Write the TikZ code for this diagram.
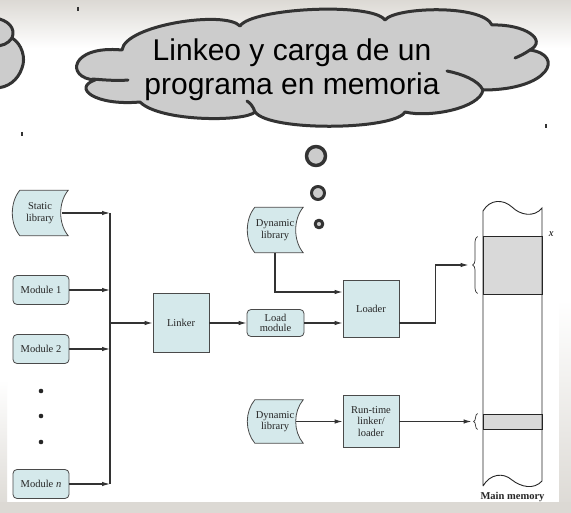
\documentclass[tikz,border=0pt]{standalone}
\usepackage{fontspec}
\setmainfont{Liberation Serif}
\newfontfamily\slidefont{Liberation Sans}
\usepackage{tikz}
\usetikzlibrary{shapes,arrows,arrows.meta}
\usetikzlibrary{calc}
\usetikzlibrary{backgrounds}
\usetikzlibrary{decorations.pathreplacing}
\pgfdeclarelayer{slidebg}
\pgfsetlayers{slidebg,background,main}
\definecolor{slidegray}{HTML}{DCD9D4}
\definecolor{boxfill}{HTML}{D5E9EB}
\definecolor{boxline}{HTML}{4A4A4A}
\definecolor{cloudfill}{HTML}{CCCCCC}
\definecolor{cloudline}{HTML}{333333}
\definecolor{memfill}{HTML}{D9D9D9}
\tikzstyle{procblock} = [rectangle, draw=boxline, fill=boxfill, line width=0.8pt,
    align=center, minimum width=56pt, inner sep=1pt, text=black!85,
    font=\fontsize{10.5}{11.5}\selectfont]
\tikzstyle{filebox} = [procblock, rounded corners=4pt, minimum height=29pt]
\tikzstyle{libbox} = [rectangle, align=center, minimum width=56pt, minimum height=45pt,
    inner sep=0pt, text=black!85, font=\fontsize{10.5}{11.5}\selectfont]
\tikzstyle{memseg} = [rectangle, draw=black!85, fill=memfill, line width=0.9pt,
    minimum width=59pt, inner sep=0pt]
\tikzstyle{line} = [draw=black!80, line width=1.1pt, -{Latex[length=8pt,width=4.5pt]}]
\tikzstyle{puffline} = [draw=cloudline, line width=3pt, line cap=round, line join=round]

\begin{document}
\begin{tikzpicture}[x=1pt, y=-1pt]
    \useasboundingbox (0,0) rectangle (571,513);
    % slide background
    \begin{pgfonlayer}{slidebg}
    \fill[white] (0,0) rectangle (571,513);
    \shade[top color=slidegray, bottom color=white] (0,0) rectangle (571,48);
    \shade[top color=white, bottom color=slidegray] (559,300) rectangle (571,513);
    \shade[top color=white, bottom color=slidegray] (0,380) rectangle (7,513);
    \fill[slidegray] (0,502) rectangle (571,513);
    \end{pgfonlayer}
    \foreach \tx/\ty in {78/7, 22/132, 546/124}
        \draw[cloudline, line width=1.4pt] (\tx,\ty) -- (\tx,\ty+4);

    % thought clouds
    \filldraw[fill=cloudfill, puffline] (-5,18) .. controls (8,20) and (16,28) .. (12,38)
        .. controls (22,44) and (26,58) .. (22,68) .. controls (18,80) and (8,88) .. (-5,88) -- cycle;
    \draw[puffline] (12,38) .. controls (8,44) and (2,46) .. (-5,46);
    \filldraw[fill=cloudfill, puffline] (122,50)
        .. controls (125,25) and (225,10) .. (240,26)
        .. controls (252,8) and (372,2) .. (385,20)
        .. controls (395,7) and (482,4) .. (492,25)
        .. controls (525,24) and (548,40) .. (530,50)
        .. controls (565,55) and (550,90) .. (483,90)
        .. controls (480,108) and (430,118) .. (405,112)
        .. controls (395,130) and (270,132) .. (255,112)
        .. controls (245,122) and (160,122) .. (140,102)
        .. controls (95,106) and (72,88) .. (95,80)
        .. controls (65,78) and (70,45) .. cycle;
    \draw[puffline] (92,79) .. controls (105,80) and (118,81) .. (128,80);
    \draw[puffline] (530,50) .. controls (524,54) and (520,56) .. (515,58);
    \draw[puffline] (483,90) .. controls (478,80) and (462,74) .. (447,71);
    \draw[puffline] (255,112) .. controls (253,106) and (250,103) .. (247,101);
    \node [align=center, font=\slidefont\fontsize{30}{34}\selectfont] (title) at (292,70)
        {Linkeo y carga de un\\programa en memoria};
    \filldraw[fill=cloudfill, puffline, line width=3.5pt] (316,156) circle (9.5);
    \filldraw[fill=cloudfill, puffline] (318,193) circle (6.5);
    \filldraw[fill=cloudfill, puffline] (319,224) circle (3.8);

    % inputs
    \node [libbox] (slib) at (40,213) {Static\\library};
    \node [filebox] (mod1) at (41,290) {Module 1};
    \node [filebox] (mod2) at (41,349) {Module 2};
    \node [filebox] (modn) at (41,484) {Module \textit{n}};
    \foreach \y in {391,416,442}
        \fill[black!85] (41,\y) circle (2.3);
    \coordinate (bus) at (110,323);

    % linking and loading
    \node [procblock, minimum height=59pt] (linker) at (181,323) {Linker};
    \node [filebox, minimum width=57pt, minimum height=27pt] (loadmod) at (275.5,323) {Load\\[-1pt]module};
    \node [libbox] (dlibA) at (275,230) {Dynamic\\library};
    \node [procblock, minimum height=57pt] (loader) at (371,308.5) {Loader};
    \node [libbox, minimum height=43pt] (dlibB) at (275,421.5) {Dynamic\\library};
    \node [procblock, minimum height=52pt] (runtime) at (371,421.5) {Run-time\\linker/\\loader};

    % main memory
    \node [memseg, minimum height=58pt] (progseg) at (512.5,265) {};
    \node [memseg, minimum height=15pt] (rtseg) at (512.5,421.5) {};
    \draw[black!85, line width=0.9pt] (483,486) -- (483,211)
        .. controls (490,199) and (503,199) .. (512,207)
        .. controls (520,215) and (534,218) .. (542,208) -- (542,481)
        .. controls (534,490) and (521,487) .. (512,480)
        .. controls (503,472) and (490,474) .. (483,486);
    \node [anchor=west, font=\itshape\fontsize{10.5}{11}\selectfont] (xlabel) at ($(progseg.north east)+(3,-1)$) {x};
    \node [font=\bfseries\fontsize{10.5}{11}\selectfont, text=black!85] (memlabel) at (512.5,497) {Main memory};
    \draw[black!80, line width=0.7pt, decorate, decoration={brace, amplitude=5pt}]
        ($(progseg.south west)+(-5,-1)$) -- ($(progseg.north west)+(-5,1)$);
    \draw[black!80, line width=0.7pt, decorate, decoration={brace, amplitude=4pt}]
        ($(rtseg.south west)+(-5,0)$) -- ($(rtseg.north west)+(-5,0)$);
    \coordinate (progtip) at ($(progseg.west)+(-14,0)$);
    \coordinate (rttip) at ($(rtseg.west)+(-11,0)$);

    % library outlines
    \begin{scope}[on background layer]
    \foreach \lib in {slib,dlibA,dlibB}
        \filldraw[fill=boxfill, draw=boxline, line width=0.8pt]
            ($(\lib.north west)+(8,0)$) -- (\lib.north east)
            .. controls ($(\lib.north east)+(-10,12)$) and ($(\lib.south east)+(-10,-12)$) .. (\lib.south east)
            -- ($(\lib.south west)+(8,0)$)
            .. controls ($(\lib.south west)+(-2,-12)$) and ($(\lib.north west)+(-2,12)$) .. cycle;
    \end{scope}

    % Draw edges
    \path[line] ($(slib.east)+(-6,0)$) -- (slib -| bus);
    \foreach \src in {mod1,mod2,modn}
        \path[line] (\src) -- (\src -| bus);
    \draw[black!80, line width=1.1pt] (slib -| bus) -- (modn -| bus);
    \path[line] (bus) -- (linker);
    \path[line] (linker) -- (loadmod);
    \path[line] (loadmod) -- (loadmod -| loader.west);
    \path[line] (dlibA.south) |- ($(loader.west)+(0,-16.5)$);
    \path[line] (loader.east |- loadmod) -- ++(36,0) |- (progtip);
    \path[line] ($(dlibB.east)+(-7,0)$) -- (runtime);
    \path[line] (runtime) -- (rttip);
\end{tikzpicture}
\end{document}
